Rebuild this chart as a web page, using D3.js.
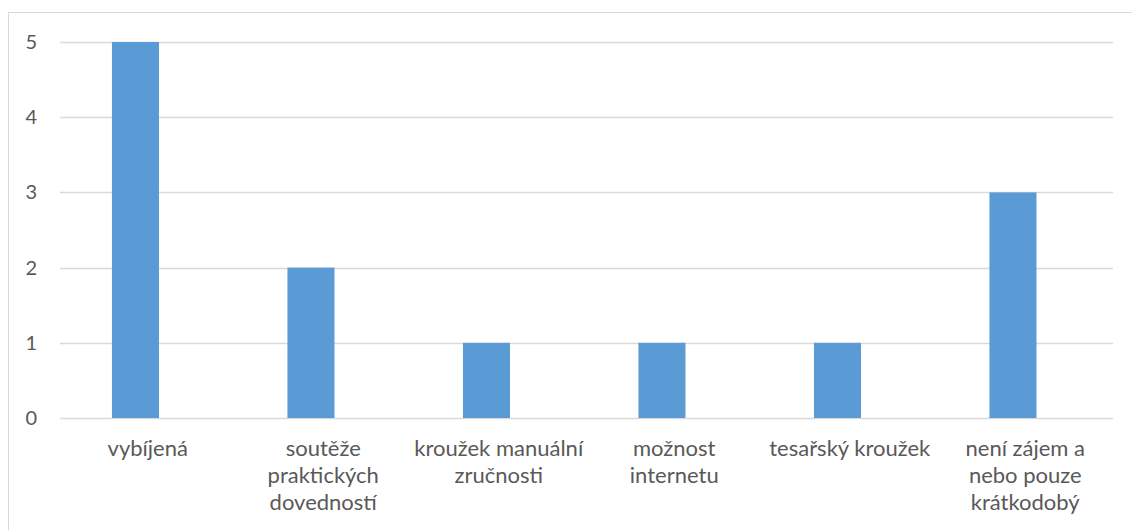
<!DOCTYPE html>
<html>
  <head>
    <meta charset="utf-8">
    <title>Zájmy</title>
    <script src="https://d3js.org/d3.v7.min.js"></script>
    <style>
      body { margin: 0; background: #fff; }
      text { font-family: Lato, "Open Sans", sans-serif; fill: #595959; }
    </style>
  </head>
  <body>
    <script>
      var width = 1132;
      var height = 530;
      var margin = {top: 42, left: 60, right: 19, bottom: 112};

      var categories = ["vybíjená", "soutěže praktických dovedností", "kroužek manuální zručnosti",
        "možnost internetu", "tesařský kroužek", "není zájem a nebo pouze krátkodobý"];
      var values = [5, 2, 1, 1, 1, 3];
      var labelLines = [
        ["vybíjená"],
        ["soutěže", "praktických", "dovedností"],
        ["kroužek manuální", "zručnosti"],
        ["možnost", "internetu"],
        ["tesařský kroužek"],
        ["není zájem a", "nebo pouze", "krátkodobý"]
      ];
      var yTicks = [0, 1, 2, 3, 4, 5];

      var data = categories.map(function(c, i) { return {x: c, y: values[i], lines: labelLines[i]}; });

      var svg = d3.select("body")
        .append("svg")
        .attr("width", width)
        .attr("height", height);

      // chart frame
      svg.append("rect")
        .attr("x", 8.5).attr("y", 12.5)
        .attr("width", width + 20).attr("height", height + 20)
        .attr("fill", "none")
        .attr("stroke", "#d9d9d9");

      var xScale = d3.scaleBand()
        .domain(categories)
        .range([margin.left, width - margin.right]);

      var yScale = d3.scaleLinear()
        .domain([0, 5])
        .range([height - margin.bottom, margin.top]);

      // gridlines
      svg.append("g")
        .selectAll("line")
        .data(yTicks)
        .enter()
        .append("line")
          .attr("x1", margin.left)
          .attr("x2", width - margin.right)
          .attr("y1", function(d) { return Math.round(yScale(d)) + 0.5; })
          .attr("y2", function(d) { return Math.round(yScale(d)) + 0.5; })
          .attr("stroke", "#d9d9d9")
          .attr("stroke-width", 1.3);

      // y labels
      svg.append("g")
        .selectAll("text")
        .data(yTicks)
        .enter()
        .append("text")
          .attr("x", 37)
          .attr("y", function(d) { return yScale(d); })
          .attr("dy", "0.35em")
          .attr("text-anchor", "end")
          .style("font-size", "20px")
          .text(function(d) { return d; });

      var bw = xScale.bandwidth();
      svg.append("g")
        .selectAll("rect")
        .data(data)
        .enter()
        .append("rect")
          .attr("x", function(d) { return xScale(d.x) + bw * 0.296; })
          .attr("y", function(d) { return yScale(d.y); })
          .attr("width", bw * 0.268)
          .attr("height", function(d) { return yScale(0) - yScale(d.y); })
          .attr("fill", "#5b9bd5");

      // category labels
      var labels = svg.append("g")
        .selectAll("text")
        .data(data)
        .enter()
        .append("text")
          .attr("text-anchor", "middle")
          .style("font-size", "22px");

      labels.selectAll("tspan")
        .data(function(d) { return d.lines.map(function(l) { return {t: l, cx: xScale(d.x) + bw / 2}; }); })
        .enter()
        .append("tspan")
          .attr("x", function(d) { return d.cx; })
          .attr("y", function(d, i) { return 456 + i * 27; })
          .text(function(d) { return d.t; });
    </script>
  </body>
</html>
